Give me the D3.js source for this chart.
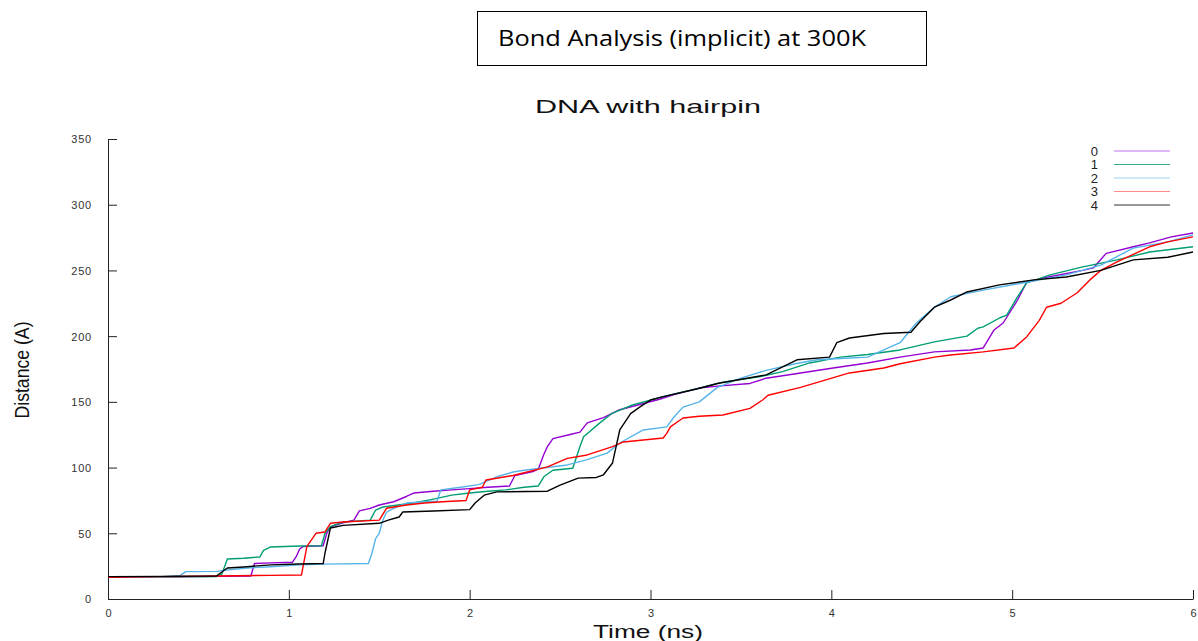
<!DOCTYPE html>
<html>
<head>
<meta charset="utf-8">
<script src="https://cdn.jsdelivr.net/npm/d3@7"></script>
<style>
  html, body { margin: 0; padding: 0; background: #fff; }
  svg { display: block; }
</style>
</head>
<body>
<svg id="chart" width="1198" height="641"></svg>
<script>
// Bond distance (Å) over simulation time (ns) for five bonds, DNA with hairpin
const seriesNames = ["0", "1", "2", "3", "4"];
const seriesColors = ["#9400d3", "#009e73", "#56b4e9", "#ff0000", "#000000"];
const legendColors = ["#c070f0", "#33b08a", "#a0d4f4", "#ff8a8a", "#333333"];

const bond0 = [[0,16.5],[0.2,17],[0.4,16.8],[0.6,17.2],[0.79,17.5],[0.81,27],[0.9,27.5],[1.02,28],[1.04,32],[1.06,38],[1.08,40],[1.19,40.5],[1.21,50],[1.23,55],[1.3,58],[1.36,60],[1.39,67],[1.45,69],[1.5,71.5],[1.58,74],[1.65,78],[1.69,80.6],[1.8,82],[1.9,83],[2.0,84],[2.1,85],[2.22,86],[2.25,94],[2.35,97],[2.38,99],[2.41,110],[2.43,116],[2.46,122],[2.55,125],[2.61,127],[2.65,134],[2.74,138],[2.83,144],[2.94,148],[3.05,152],[3.13,155.5],[3.27,160.5],[3.37,162],[3.55,164],[3.64,168],[3.83,172],[4.01,175.8],[4.2,179.6],[4.38,184],[4.57,188],[4.77,189.5],[4.84,191],[4.9,204.7],[4.95,210],[5.03,227.5],[5.08,241],[5.2,245],[5.39,250],[5.45,252],[5.52,263],[5.67,268],[5.76,271],[5.88,275.5],[6.0,278.5]];

const bond1 = [[0,16.5],[0.3,16.8],[0.6,17],[0.63,19],[0.66,30.4],[0.75,31],[0.84,32],[0.86,37],[0.9,39.6],[1.06,40.3],[1.18,40.5],[1.2,50],[1.23,55],[1.3,58.6],[1.45,60],[1.48,67.7],[1.52,70],[1.69,73],[1.8,76],[1.9,79],[2.0,80.6],[2.1,82],[2.2,83],[2.3,85],[2.38,86],[2.41,93],[2.46,98],[2.57,99.5],[2.61,116],[2.63,123.5],[2.72,134],[2.79,141.5],[2.9,147.6],[3.07,154],[3.27,160.5],[3.4,165],[3.6,169],[3.73,173],[3.88,179.6],[4.05,184],[4.2,186],[4.38,189.5],[4.57,195.6],[4.75,200],[4.81,206],[4.84,207],[4.93,213.8],[4.97,216],[5.03,230],[5.08,240.5],[5.21,246.6],[5.39,252.7],[5.58,258],[5.76,264],[6.0,268]];

const bond2 = [[0,16.5],[0.3,17],[0.4,18],[0.43,20.8],[0.6,21],[0.65,22],[0.77,23.6],[0.9,24.5],[1.06,26],[1.2,26.5],[1.44,27],[1.46,35],[1.48,46],[1.5,50],[1.52,60],[1.54,66],[1.58,69],[1.65,73],[1.75,74],[1.82,74.5],[1.84,83],[1.95,85],[2.05,87],[2.15,93],[2.24,96.6],[2.3,98],[2.54,102],[2.65,106],[2.76,111],[2.83,118.7],[2.96,128.6],[3.09,131],[3.13,138.5],[3.18,146],[3.27,150],[3.37,161],[3.5,168],[3.64,174],[3.8,179],[3.92,182],[4.05,183],[4.2,184],[4.38,195],[4.47,210],[4.52,216],[4.57,222],[4.66,230],[4.84,235],[5.08,241],[5.3,246.6],[5.49,254],[5.6,262],[5.67,267],[5.86,271.7],[6.0,277]];

const bond3 = [[0,16.5],[0.3,17],[0.6,17.5],[0.9,18],[1.07,18.3],[1.1,40],[1.15,50],[1.2,51],[1.23,57.6],[1.3,58.6],[1.5,60],[1.54,69],[1.65,71.5],[1.75,73],[1.85,74],[1.98,75],[2.0,83],[2.07,85],[2.09,90.5],[2.24,94],[2.43,100.5],[2.54,107],[2.65,109.6],[2.79,116],[2.85,119.5],[3.07,122.5],[3.09,126],[3.11,131],[3.18,137.7],[3.27,139],[3.4,140],[3.55,145],[3.62,151.4],[3.65,155],[3.83,161],[4.1,172],[4.29,175.8],[4.38,179],[4.57,184],[4.66,185.7],[4.84,188],[5.01,191],[5.08,199.4],[5.15,212],[5.19,222],[5.27,225],[5.36,233],[5.43,242.8],[5.49,250],[5.58,256.5],[5.76,268],[5.86,271.7],[6.0,275.5]];

const bond4 = [[0,17],[0.3,17.2],[0.6,17.5],[0.62,19.6],[0.66,23.6],[0.75,24.4],[0.9,26],[1.05,26.6],[1.19,27],[1.2,35],[1.23,54],[1.3,56],[1.5,57.6],[1.55,60],[1.61,62.4],[1.63,66.2],[1.8,67],[2.0,68],[2.03,73],[2.08,79],[2.15,81.5],[2.43,82],[2.5,86.6],[2.6,92],[2.7,92.5],[2.74,94.5],[2.79,103.5],[2.83,128.6],[2.89,141],[2.94,146],[3.0,151.4],[3.07,154],[3.26,160],[3.37,164],[3.64,170.5],[3.81,182],[3.99,184],[4.03,195],[4.1,198.6],[4.29,202],[4.44,203],[4.49,211],[4.57,222],[4.66,227.5],[4.75,233.6],[4.93,239],[5.12,242.8],[5.3,245],[5.49,250],[5.67,258],[5.86,260],[6.0,264]];

const xTicks = [0, 1, 2, 3, 4, 5, 6];
const yTicks = [0, 50, 100, 150, 200, 250, 300, 350];

const allSeries = [bond0, bond1, bond2, bond3, bond4];

const svg = d3.select("#chart");

// Heading box
svg.append("rect")
  .attr("x", 477.5).attr("y", 11.5).attr("width", 449).attr("height", 54)
  .attr("fill", "none").attr("stroke", "#000").attr("stroke-width", 1);
svg.append("text")
  .attr("x", 498).attr("y", 46)
  .attr("font-family", "'Open Sans', 'Liberation Sans', sans-serif")
  .attr("font-size", 22)
  .attr("textLength", 368).attr("lengthAdjust", "spacingAndGlyphs")
  .attr("fill", "#000")
  .text("Bond Analysis (implicit) at 300K");

// Plot title
svg.append("text")
  .attr("x", 648).attr("y", 113)
  .attr("text-anchor", "middle")
  .attr("font-family", "'Liberation Sans', Arial, sans-serif")
  .attr("font-size", 19)
  .attr("textLength", 226).attr("lengthAdjust", "spacingAndGlyphs")
  .attr("fill", "#111")
  .text("DNA with hairpin");

const x = d3.scaleLinear().domain([0, 6]).range([108, 1193]);
const y = d3.scaleLinear().domain([0, 350]).range([599, 139]);

// Axes with inward ticks
const xAxis = d3.axisBottom(x).tickValues(xTicks).tickFormat(d3.format("d"))
  .tickSizeInner(-9).tickSizeOuter(0).tickPadding(10);
const yAxis = d3.axisLeft(y).tickValues(yTicks).tickFormat(d3.format("d"))
  .tickSizeInner(-9).tickSizeOuter(0).tickPadding(16);

const gx = svg.append("g").attr("transform", "translate(0,599)").call(xAxis);
const gy = svg.append("g").attr("transform", "translate(108,0)").call(yAxis);

[gx, gy].forEach(g => {
  g.select(".domain").attr("stroke", "#222").attr("stroke-width", 1);
  g.selectAll(".tick line").attr("stroke", "#222").attr("stroke-width", 1);
  g.selectAll(".tick text")
    .attr("font-family", "'Liberation Sans', Arial, sans-serif")
    .attr("font-size", 11)
    .attr("fill", "#333");
});
gy.selectAll(".tick text").attr("dy", "0.35em").style("letter-spacing", "0.8px");
gx.selectAll(".tick text").attr("dy", "0.71em");

// Axis titles
svg.append("text")
  .attr("x", 648).attr("y", 638)
  .attr("text-anchor", "middle")
  .attr("font-family", "'Liberation Sans', Arial, sans-serif")
  .attr("font-size", 18)
  .attr("textLength", 110).attr("lengthAdjust", "spacingAndGlyphs")
  .attr("fill", "#111")
  .text("Time (ns)");

svg.append("text")
  .attr("transform", "translate(29,370) rotate(-90)")
  .attr("text-anchor", "middle")
  .attr("font-family", "'Liberation Sans Narrow', 'Liberation Sans', Arial, sans-serif")
  .attr("font-size", 20)
  .attr("textLength", 97).attr("lengthAdjust", "spacingAndGlyphs")
  .attr("fill", "#111")
  .text("Distance (A)");

// Series lines
const line = d3.line().x(d => x(d[0])).y(d => y(d[1]));
const plot = svg.append("g");
allSeries.forEach((s, i) => {
  plot.append("path")
    .datum(s)
    .attr("fill", "none")
    .attr("stroke", seriesColors[i])
    .attr("stroke-width", 1.4)
    .attr("stroke-linejoin", "round")
    .attr("d", line);
});

// Legend
const legend = svg.append("g");
seriesNames.forEach((name, i) => {
  const ly = 151 + i * 13.5;
  legend.append("text")
    .attr("x", 1098).attr("y", ly)
    .attr("dy", "0.35em")
    .attr("text-anchor", "end")
    .attr("font-family", "'Liberation Sans', Arial, sans-serif")
    .attr("font-size", 13)
    .attr("fill", "#222")
    .text(name);
  legend.append("line")
    .attr("x1", 1114).attr("x2", 1170)
    .attr("y1", ly).attr("y2", ly)
    .attr("stroke", legendColors[i])
    .attr("stroke-width", 1.2);
});
</script>
</body>
</html>
